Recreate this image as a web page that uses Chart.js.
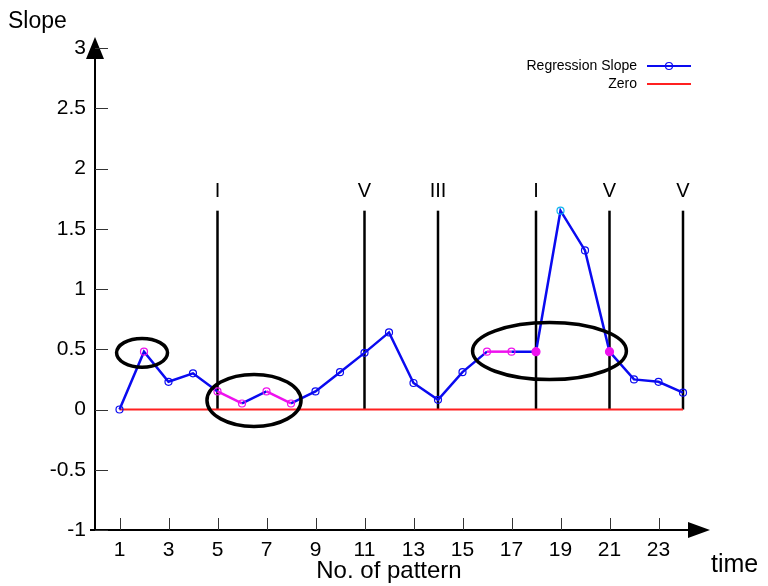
<!DOCTYPE html>
<html>
<head>
<meta charset="utf-8">
<title>Regression Slope</title>
<script src="https://cdn.jsdelivr.net/npm/chart.js@4.4.1/dist/chart.umd.min.js"></script>
<style>
    body { margin: 0; background: #fff; }
    #wrap { width: 768px; height: 586px; }
</style>
</head>
<body>
<div id="wrap"><canvas id="chart" width="768" height="586"></canvas></div>
<script>
// data
const patterns = [1, 2, 3, 4, 5, 6, 7, 8, 9, 10, 11, 12, 13, 14, 15, 16, 17, 18, 19, 20, 21, 22, 23, 24];
const slopes = [0, 0.48, 0.23, 0.30, 0.15, 0.05, 0.15, 0.05, 0.15, 0.31, 0.47, 0.64, 0.22, 0.08, 0.31, 0.48, 0.48, 0.48, 1.65, 1.32, 0.48, 0.25, 0.23, 0.14];
const zeroX = [1, 24];
const zeroY = [0, 0];
const xTicks = [1, 3, 5, 7, 9, 11, 13, 15, 17, 19, 21, 23];
const markerX = [5, 11, 14, 18, 21, 24];
const markerNames = ["I", "V", "III", "I", "V", "V"];
const markerTop = 1.65;
const magentaSegments = [5, 7, 16];      // segment starting at these patterns
const magentaPoints = [2, 5, 6, 7, 8, 16, 17];
const filledPoints = [18, 21];
const cyanPoints = [19];
// circled areas, in data units
const rings = [
    { cx: 1.92, cy: 0.47, rx: 1.04, ry: 0.12 },
    { cx: 6.49, cy: 0.075, rx: 1.92, ry: 0.216 },
    { cx: 18.55, cy: 0.485, rx: 3.14, ry: 0.237 }
];

(function() {
    const BLUE = "#0a0af0";
    const MAGENTA = "#ee11ee";
    const CYAN = "#10b8f0";
    const RED = "#ff2020";

    Chart.defaults.font.family = "'Liberation Sans', Arial, sans-serif";
    Chart.defaults.color = "#000";

    const pointColor = p => cyanPoints.includes(p) ? CYAN :
        (magentaPoints.includes(p) || filledPoints.includes(p)) ? MAGENTA : BLUE;

    const datasets = [{
        label: "Regression Slope",
        data: patterns.map((p, i) => ({ x: p, y: slopes[i] })),
        borderColor: BLUE,
        borderWidth: 2.5,
        pointRadius: patterns.map(p => filledPoints.includes(p) ? 4 : 3.5),
        pointBorderWidth: 1.2,
        pointBorderColor: patterns.map(pointColor),
        pointBackgroundColor: patterns.map(p => filledPoints.includes(p) ? MAGENTA : "rgba(0,0,0,0)"),
        clip: 8,
        segment: {
            borderColor: ctx => magentaSegments.includes(patterns[ctx.p0DataIndex]) ? MAGENTA : BLUE
        }
    }, {
        label: "Zero",
        data: zeroX.map((x, i) => ({ x: x, y: zeroY[i] })),
        borderColor: RED,
        borderWidth: 2,
        pointRadius: 0,
        clip: 8
    }];

    markerX.forEach(x => {
        datasets.push({
            label: "marker",
            data: [{ x: x, y: 0 }, { x: x, y: markerTop }],
            borderColor: "#000",
            borderWidth: 2.5,
            pointRadius: 0,
            clip: 8
        });
    });

    // axes with arrows, tick marks, rings, annotations and legend
    const decor = {
        id: "decor",
        afterDatasetsDraw(chart) {
            const ctx = chart.ctx;
            const xs = chart.scales.x, ys = chart.scales.y;
            const area = chart.chartArea;
            ctx.save();

            // rings
            ctx.strokeStyle = "#000";
            ctx.lineWidth = 3.5;
            rings.forEach(r => {
                const cx = xs.getPixelForValue(r.cx), cy = ys.getPixelForValue(r.cy);
                const rx = Math.abs(xs.getPixelForValue(r.cx + r.rx) - cx);
                const ry = Math.abs(ys.getPixelForValue(r.cy + r.ry) - cy);
                ctx.beginPath();
                ctx.ellipse(cx, cy, rx, ry, 0, 0, Math.PI * 2);
                ctx.stroke();
            });

            // marker labels
            ctx.fillStyle = "#000";
            ctx.font = "20px 'Liberation Sans', Arial, sans-serif";
            ctx.textAlign = "center";
            ctx.textBaseline = "alphabetic";
            markerX.forEach((x, i) => {
                ctx.fillText(markerNames[i], xs.getPixelForValue(x), ys.getPixelForValue(markerTop) - 14);
            });

            // y axis with arrow
            const ax = area.left, ay = area.bottom;
            ctx.strokeStyle = "#000";
            ctx.lineWidth = 2;
            ctx.beginPath();
            ctx.moveTo(ax, ay + 1);
            ctx.lineTo(ax, area.top - 4);
            ctx.stroke();
            ctx.beginPath();
            ctx.moveTo(ax, area.top - 11);
            ctx.lineTo(ax - 9, area.top + 11);
            ctx.lineTo(ax + 9, area.top + 11);
            ctx.closePath();
            ctx.fill();

            // x axis with arrow
            const tip = 710;
            ctx.beginPath();
            ctx.moveTo(ax - 5, ay);
            ctx.lineTo(tip - 8, ay);
            ctx.stroke();
            ctx.beginPath();
            ctx.moveTo(tip, ay);
            ctx.lineTo(tip - 22, ay - 8);
            ctx.lineTo(tip - 22, ay + 8);
            ctx.closePath();
            ctx.fill();

            // tick marks
            ctx.lineWidth = 1;
            ctx.strokeStyle = "#333";
            ys.ticks.forEach(t => {
                const y = Math.round(ys.getPixelForValue(t.value)) + 0.5;
                ctx.beginPath();
                ctx.moveTo(ax, y);
                ctx.lineTo(ax + 13, y);
                ctx.stroke();
            });
            xTicks.forEach(v => {
                const x = Math.round(xs.getPixelForValue(v)) + 0.5;
                ctx.beginPath();
                ctx.moveTo(x, ay);
                ctx.lineTo(x, ay - 12);
                ctx.stroke();
            });

            // axis names
            ctx.font = "23px 'Liberation Sans', Arial, sans-serif";
            ctx.textAlign = "left";
            ctx.fillText("Slope", 8, 28);
            ctx.font = "25px 'Liberation Sans', Arial, sans-serif";
            ctx.fillText("time", 711, 572);

            // legend
            ctx.font = "14px 'Liberation Sans', Arial, sans-serif";
            ctx.textAlign = "right";
            ctx.textBaseline = "middle";
            const rows = [datasets[0], datasets[1]];
            rows.forEach((ds, i) => {
                const y = 66 + i * 18;
                ctx.fillStyle = "#000";
                ctx.fillText(ds.label, 637, y);
                ctx.strokeStyle = ds.borderColor;
                ctx.lineWidth = 2;
                ctx.beginPath();
                ctx.moveTo(647, y);
                ctx.lineTo(691, y);
                ctx.stroke();
                if (i === 0) {
                    ctx.lineWidth = 1.2;
                    ctx.beginPath();
                    ctx.arc(669, y, 3.5, 0, Math.PI * 2);
                    ctx.stroke();
                }
            });
            ctx.restore();
        }
    };

    new Chart(document.getElementById("chart"), {
        type: "line",
        data: { datasets: datasets },
        options: {
            responsive: false,
            animation: false,
            devicePixelRatio: 1,
            layout: { padding: { left: 0, right: 85, top: 48, bottom: 0 } },
            plugins: { legend: { display: false }, tooltip: { enabled: false } },
            scales: {
                x: {
                    type: "linear",
                    min: 0,
                    max: 24,
                    afterFit: s => { s.height = 56; },
                    afterBuildTicks: s => { s.ticks = xTicks.map(v => ({ value: v })); },
                    grid: { display: false, drawTicks: false },
                    border: { display: false },
                    ticks: { font: { size: 21 }, padding: 8, maxRotation: 0, autoSkip: false },
                    title: { display: true, text: "No. of pattern", font: { size: 24 }, padding: { top: 0, bottom: 0 } }
                },
                y: {
                    min: -1,
                    max: 3,
                    afterFit: s => { s.width = 95; },
                    grid: { display: false, drawTicks: false },
                    border: { display: false },
                    ticks: {
                        stepSize: 0.5,
                        font: { size: 21 },
                        padding: 9,
                        callback: v => String(Math.round(v * 10) / 10)
                    }
                }
            }
        },
        plugins: [decor]
    });
})();
</script>
</body>
</html>
